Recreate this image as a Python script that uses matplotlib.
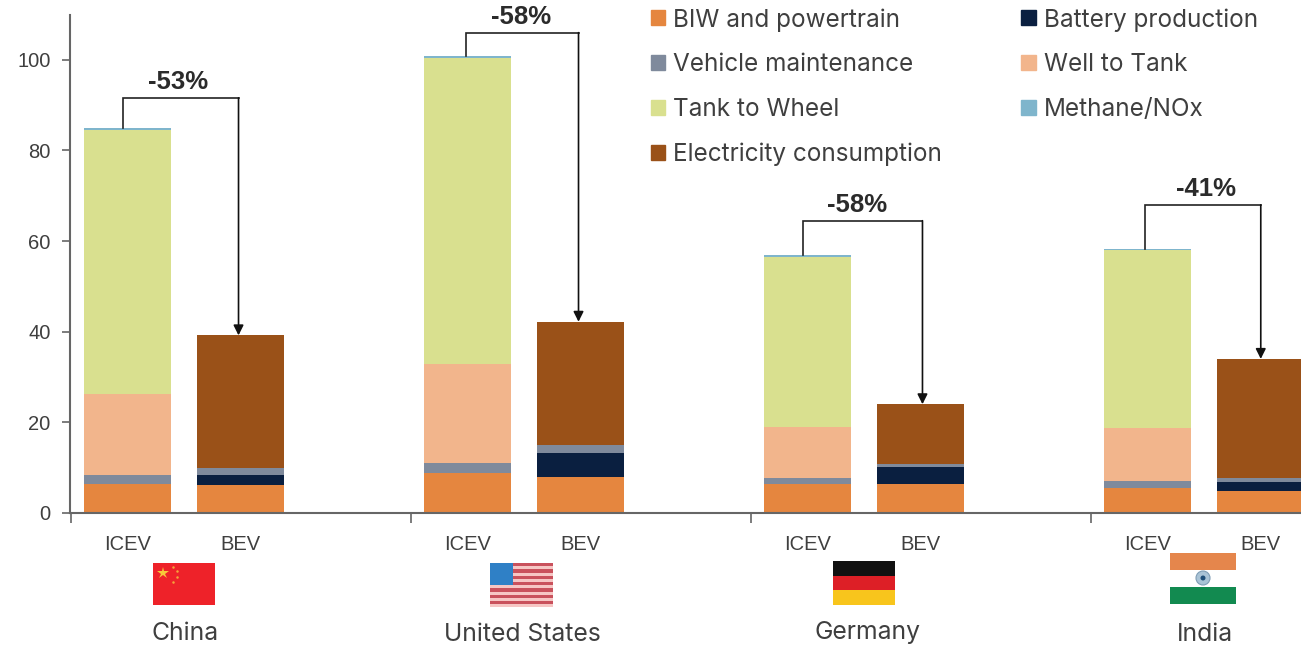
import matplotlib
matplotlib.use("Agg")
import numpy as np
import matplotlib.pyplot as plt
from matplotlib.patches import Patch, Rectangle, Circle

plt.rcParams["font.family"] = ["Liberation Sans", "DejaVu Sans"]

# one entry per bar, left to right
bar_labels = ["ICEV", "BEV", "ICEV", "BEV", "ICEV", "BEV", "ICEV", "BEV"]
biw = [6.4, 6.2, 8.8, 8.0, 6.4, 6.4, 5.5, 4.9]
battery = [0, 2.2, 0, 5.2, 0, 3.8, 0, 1.9]
maintenance = [2.0, 1.5, 2.2, 1.8, 1.3, 0.6, 1.5, 1.0]
well_to_tank = [17.9, 0, 21.9, 0, 11.3, 0, 11.7, 0]
tank_to_wheel = [58.2, 0, 67.5, 0, 37.5, 0, 39.3, 0]
methane = [0.4, 0, 0.5, 0, 0.4, 0, 0.3, 0]
electricity = [0, 29.3, 0, 27.2, 0, 13.2, 0, 26.2]

countries = ["China", "United States", "Germany", "India"]
reductions = ["-53%", "-58%", "-58%", "-41%"]
bracket_tops = [91.6, 106, 64.5, 68]

series = [
    ("BIW and powertrain", biw, "#E5863F"),
    ("Battery production", battery, "#0A1F40"),
    ("Vehicle maintenance", maintenance, "#7F8A9C"),
    ("Well to Tank", well_to_tank, "#F2B58C"),
    ("Tank to Wheel", tank_to_wheel, "#D9E08F"),
    ("Methane/NOx", methane, "#7FB5CC"),
    ("Electricity consumption", electricity, "#9A5118"),
]

text_col = "#3f3f3f"
axis_col = "#666666"

# small per-group nudges for the brackets, in bar spacing units
start_dx = [-0.04, -0.013, -0.04, -0.02]
end_dx = [-0.02, -0.02, 0.015, 0]
label_dx = [-0.02, -0.01, -0.05, 0.03]

W, H = 1301, 646
fig = plt.figure(figsize=(W / 100, H / 100), dpi=100)
# axes span pixel x 70-1301, pixel y 0-513
ax = fig.add_axes([70 / W, 1 - 513 / H, (W - 70) / W, 513 / H])

x = np.array([0, 1, 3, 4, 6, 7, 9, 10])
bottom = np.zeros(len(x))
for name, vals, col in series:
    vals = np.array(vals, dtype=float)
    ax.bar(x, vals, width=0.77, bottom=bottom, color=col, label=name)
    bottom += vals

ax.set_xlim(-0.507, 10.355)
ax.set_ylim(0, 113.2)

ax.spines["top"].set_visible(False)
ax.spines["right"].set_visible(False)
ax.spines["left"].set_bounds(0, 110)
for s in ["left", "bottom"]:
    ax.spines[s].set_color(axis_col)
    ax.spines[s].set_linewidth(1.5)

ax.set_yticks([0, 20, 40, 60, 80, 100])
ax.tick_params(axis="y", labelsize=14.5, labelcolor=text_col, color=axis_col, length=6, width=1.2, pad=8)
ax.set_xticks(x)
ax.set_xticklabels(bar_labels)
ax.tick_params(axis="x", which="major", labelsize=14.5, labelcolor=text_col, length=0, pad=16)
ax.set_xticks([-0.5, 2.5, 5.5, 8.5], minor=True)
ax.tick_params(axis="x", which="minor", color=axis_col, length=7, width=1.2)

# reduction brackets from ICEV top to BEV top
for i, (pct, top) in enumerate(zip(reductions, bracket_tops)):
    x0, x1 = x[2 * i] + start_dx[i], x[2 * i + 1] + end_dx[i]
    ax.plot([x0, x0, x1, x1], [bottom[2 * i], top, top, top], color="#222222", lw=1.2, solid_joinstyle="miter")
    ax.annotate("", xy=(x1, bottom[2 * i + 1]), xytext=(x1, top),
                arrowprops=dict(arrowstyle="-|>", color="#111111", lw=1.2, shrinkA=0, shrinkB=0, mutation_scale=15))
    ax.text((x0 + x1) / 2 + label_dx[i], top + 0.9, pct, ha="center", va="bottom", fontsize=18.5,
            fontweight="bold", color="#2b2b2b", clip_on=False)

# legend order runs down the columns
handles = [Patch(color=series[i][2], label=series[i][0]) for i in [0, 2, 4, 6, 1, 3, 5]]
ax.legend(handles=handles, ncol=2, frameon=False, prop={"family": "Inter", "size": 17.5}, labelcolor=text_col,
          loc="upper left", bbox_to_anchor=((651 - 70) / (W - 70), 1 - 8 / 513),
          handlelength=0.58, handleheight=0.58, handletextpad=0.33,
          labelspacing=0.89, columnspacing=3.27, borderpad=0, borderaxespad=0)

# overlay in pixel coordinates for the flags and country names
ov = fig.add_axes([0, 0, 1, 1], zorder=5)
ov.set_xlim(0, W)
ov.set_ylim(H, 0)
ov.axis("off")
ov.patch.set_alpha(0)


def box(x0, y0, w, h, col):
    ov.add_patch(Rectangle((x0, y0), w, h, color=col, lw=0))


# China
box(153, 563, 62, 42, "#EE2229")
ov.plot([163], [573], marker="*", ms=9, color="#F7C83A", mew=0)
for sx, sy in [(173, 567), (177, 571), (177, 577), (173, 582)]:
    ov.plot([sx], [sy], marker="o", ms=1.8, color="#F4A63A", mew=0)

# United States
for k in range(7):
    box(490, 563 + k * 6.3, 63, 3.4, "#C9515C")
    box(490, 566.4 + k * 6.3, 63, 2.9, "#F6C6C4")
box(490, 563, 23, 22, "#2F80C6")

# Germany
box(833, 561, 62, 14.5, "#111111")
box(833, 575.5, 62, 14.5, "#DD1F26")
box(833, 590, 62, 14.5, "#F8C51C")

# India
box(1170, 553, 66, 17, "#E5864C")
box(1170, 587, 66, 17, "#128A50")
ov.add_patch(Circle((1203, 578), 7, fc="#A9C3D6", ec="#7F9DB5", lw=0.8))
ov.add_patch(Circle((1203, 578), 2.5, fc="#1F4E79", lw=0))

for name, cx, base in zip(countries, [185, 522, 868, 1205], [640, 641, 639, 641]):
    ov.text(cx, base, name, ha="center", va="baseline", fontsize=17.8, family="Inter", color=text_col)

fig.savefig("out.png", dpi=100, facecolor="white")
